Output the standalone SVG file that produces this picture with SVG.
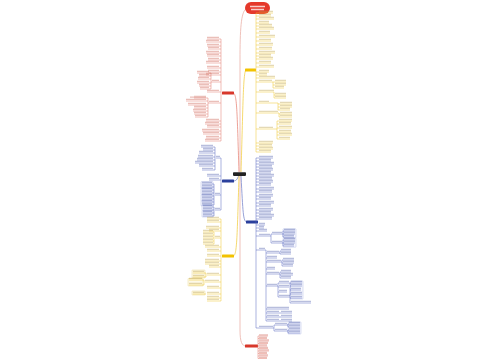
<svg xmlns="http://www.w3.org/2000/svg" width="500" height="360" viewBox="0 0 500 360">
<style>
.c{fill:none;stroke-width:.8}
.ly{fill:none;stroke:#efc52c;stroke-width:.5}
.lr{fill:none;stroke:#e37b6c;stroke-width:.5}
.lb{fill:none;stroke:#5565bd;stroke-width:.5}
.ty{fill:none;stroke:#b99a3c;stroke-width:1.3;opacity:.38}
.tr{fill:none;stroke:#c44736;stroke-width:1.3;opacity:.35}
.tb{fill:none;stroke:#34449e;stroke-width:1.3;opacity:.35}
.bxb{fill:#f6f7fd;stroke:#9ba5dc;stroke-width:.35}
.bxy{fill:#fdf9e8;stroke:#e6cc70;stroke-width:.35}
</style>
<rect width="500" height="360" fill="#fff"/>
<g id="connectors">
<path class="c" stroke="#ebb1a8" d="M246 9C241 12 240 30 240 60L240 172"/>
<path class="c" stroke="#ebb1a8" d="M240 176L240 330C240 342 242 346 246 346"/>
<path class="c" stroke="#f2cf4a" d="M241 172C243 110 243 72 246 70"/>
<path class="c" stroke="#e8897c" d="M239 172C237 110 237 93 233 93"/>
<path class="c" stroke="#7b88cc" d="M239 175C237 180 236 181 233 181"/>
<path class="c" stroke="#7b88cc" d="M241 176C243 212 243 222 247 222"/>
<path class="c" stroke="#f2cf4a" d="M239 176C237 240 237 256 233 256"/>
</g>
<g id="root">
<rect x="245" y="2" width="25" height="12" rx="6" fill="#e5392b"/>
<path d="M250 6.5h15M251 9.5h13" stroke="#fff" stroke-width="1.3" opacity=".75"/>
</g>
<g id="center"><rect x="233" y="172.3" width="13" height="3.6" rx=".8" fill="#222"/></g>
<g id="node-yt"><rect x="245" y="68.6" width="11" height="3" rx=".6" fill="#f2c200"/></g>
<g id="node-rl"><rect x="222" y="91.5" width="12" height="3" rx=".6" fill="#d8372a"/></g>
<g id="node-bl"><rect x="222" y="179.5" width="12" height="3" rx=".6" fill="#2a3f9c"/></g>
<g id="node-br"><rect x="246" y="220.5" width="12" height="3" rx=".6" fill="#2a3f9c"/></g>
<g id="node-yl"><rect x="222" y="254.5" width="12" height="3" rx=".6" fill="#f2c200"/></g>
<g id="node-rb"><rect x="245" y="344.5" width="13" height="3" rx=".6" fill="#d8372a"/></g>

<g id="leaves-yt">
<path class="ly" d="M256 13V152M256 13H273M256 16H271M256 19H274M256 23H269M256 26H272M256 29H274M256 33H270M256 37H275M256 41H271M256 45H273M256 49H272M256 53H275M256 56H271M256 59H273M256 63H271M256 67H274M256 72H269M256 75H267M256 78H275M256 82H273M273 82V88M273 82H286M273 85H286M273 88H284M256 92H274M274 92V98M274 95H286M274 98H286M256 103H278M278 103V110M278 104H292M278 107H292M278 110H290M256 113H279M279 113V117M279 114H292M279 117H292M256 129H277M277 121V139M277 121H292M277 124H291M277 128H292M277 132H291M277 135H292M277 139H290M256 143H273M256 146H272M256 149H273M256 152H271"/>
<path class="ty" d="M259 11.4h14M259 14.4h12M259 17.4h15M259 21.4h10M259 24.4h13M259 27.4h15M259 31.4h11M259 35.4h16M259 39.4h12M259 43.4h14M259 47.4h13M259 51.4h16M259 54.4h12M259 57.4h14M259 61.4h12M259 65.4h15M259 70.4h10M259 73.4h8M259 76.4h16M259 80.4h13M259 90.4h15M259 101.4h10M259 111.4h19M259 127.4h14M259 141.4h14M259 144.4h13M259 147.4h14M259 150.4h12M275 80.4h11M275 83.4h11M275 86.4h9M275 93.4h11M275 96.4h11M280 102.4h12M280 105.4h12M280 108.4h10M280 112.4h12M280 115.4h12M279 119.4h13M279 122.4h12M279 126.4h13M279 130.4h12M279 133.4h13M279 137.4h11"/>
</g>

<g id="leaves-br">
<rect class="bxb" x="283" y="228.8" width="13" height="9" rx=".5"/>
<rect class="bxb" x="283" y="238.2" width="13" height="9" rx=".5"/>
<rect class="bxb" x="290.5" y="281" width="12.5" height="18" rx=".5"/>
<rect class="bxb" x="288" y="322" width="13" height="12" rx=".5"/>
<path class="lb" d="M256 158V328M256 158H273M256 161H271M256 164H274M256 167H272M256 170H273M256 173H271M256 176H274M256 179H272M256 182H273M256 185H271M256 189H274M256 192H272M256 196H273M256 199H271M256 203H274M256 206H271M256 210H273M256 213H271M256 216H274M256 219H272M256 225H265M256 228H264M256 231H267M256 236H271M271 234V243M271 234H283M271 243H283M283 231V237M283 240V246M283 231H295M283 234H295M283 237H294M283 240H295M283 243H295M283 246H294M256 250H266M266 250V321M266 253H280M280 251V254M280 251H291M280 254H291M266 258H277M266 262H282M282 260V266M282 260H294M282 263H294M282 266H293M266 269H275M266 274H280M280 272V278M280 272H291M280 275H293M280 278H291M266 286H278M278 283V297M278 283H290M278 287H289M278 292H287M278 297H290M290 283V303M290 283H302M290 286H302M290 290H301M290 294H302M290 298H302M290 303H311M266 309H289M266 313H292M266 317H292M266 321H292M256 328H274M274 325V331M274 325H288M274 331H288M288 324V327M288 330V333M288 324H300M288 327H300M288 330H300M288 333H300"/>
<path class="tb" d="M259 156.4h14M259 159.4h12M259 162.4h15M259 165.4h13M259 168.4h14M259 171.4h12M259 174.4h15M259 177.4h13M259 180.4h14M259 183.4h12M259 187.4h15M259 190.4h13M259 194.4h14M259 197.4h12M259 201.4h15M259 204.4h12M259 208.4h14M259 211.4h12M259 214.4h15M259 217.4h13M259 223.4h6M259 226.4h5M259 229.4h8M259 234.4h11M259 248.4h6M259 326.4h14M272 232.4h10M272 241.4h10M284 229.4h11M284 232.4h11M284 235.4h10M284 238.4h11M284 241.4h11M284 244.4h10M267 251.4h12M267 256.4h10M267 260.4h14M267 267.4h8M267 272.4h12M267 284.4h10M267 307.4h22M267 311.4h12M267 315.4h12M267 319.4h12M281 249.4h10M281 252.4h10M283 258.4h11M283 261.4h11M283 264.4h10M281 270.4h10M281 273.4h12M281 276.4h10M279 281.4h10M279 285.4h10M279 290.4h8M279 295.4h11M291 281.4h11M291 284.4h11M291 288.4h10M291 292.4h11M291 296.4h11M291 301.4h20M281 311.4h11M281 315.4h11M281 319.4h11M275 323.4h12M275 329.4h12M289 322.4h11M289 325.4h11M289 328.4h11M289 331.4h11"/>
</g>

<g id="leaves-rl">
<path class="lr" d="M221 39V141M207 39H221M206 42H221M207 46H221M208 49H221M206 53H221M207 56H221M208 60H221M206 63H221M207 68H221M208 72H221M206 75H221M211 82H221M211 73V89M197 73H211M199 76H211M198 79H211M197 83H211M199 86H211M200 89H211M207 92H221M208 103H221M208 98V117M194 98H208M186 101H208M188 105H208M194 108H208M193 111H208M194 114H208M195 117H208M206 121H221M205 124H221M207 127H221M202 131H221M203 134H221M206 138H221M205 141H221"/>
<path class="tr" d="M207 37.4h12M206 40.4h13M207 44.4h12M208 47.4h11M206 51.4h13M207 54.4h12M208 58.4h11M206 61.4h13M207 66.4h12M208 70.4h11M206 73.4h13M212 80.4h7M207 90.4h12M209 101.4h10M206 119.4h13M205 122.4h14M207 125.4h12M202 129.4h17M203 132.4h16M206 136.4h13M205 139.4h14M197 71.4h12M199 74.4h10M198 77.4h11M197 81.4h12M199 84.4h10M200 87.4h9M194 96.4h12M190 97.2h16M186 99.4h20M188 103.4h18M194 106.4h12M193 109.4h13M194 112.4h12M195 115.4h11"/>
</g>

<g id="leaves-bl">
<rect class="bxb" x="201" y="181.6" width="12" height="6.4" rx=".5"/>
<rect class="bxb" x="201" y="188.4" width="12" height="6.4" rx=".5"/>
<rect class="bxb" x="201" y="194.8" width="12" height="6.4" rx=".5"/>
<rect class="bxb" x="201" y="201" width="12" height="4.8" rx=".5"/>
<rect class="bxb" x="202" y="204.8" width="11" height="6" rx=".5"/>
<rect class="bxb" x="202" y="211" width="11" height="6" rx=".5"/>
<path class="lb" d="M221 158V210M216 158H221M215 147V170M201 147H215M203 150H215M199 153H215M198 157H215M197 160H215M195 163H215M199 166H215M202 170H215M207 176H221M209 180H221M215 195H221M214 184V205M202 184H214M202 187H214M202 190H214M202 193H214M202 196H214M202 199H214M202 202H214M202 205H214M215 210H221M214 207V216M203 207H214M203 210H214M203 213H214M203 216H214"/>
<path class="tb" d="M201 145.4h12M203 148.4h10M199 151.4h14M198 155.4h15M197 158.4h16M195 161.4h18M199 164.4h14M202 168.4h11M207 174.4h12M209 178.4h10M216 156.4h4M215 193.4h5M215 208.4h5M202 182.4h10M202 185.4h10M202 188.4h10M202 191.4h10M202 194.4h10M202 197.4h10M202 200.4h10M202 203.4h10M203 205.4h9M203 208.4h9M203 211.4h9M203 214.4h9"/>
</g>

<g id="leaves-yl">
<rect class="bxy" x="192" y="270" width="13" height="8" rx=".5"/>
<rect class="bxy" x="188" y="278.5" width="15" height="7.5" rx=".5"/>
<rect class="bxy" x="192" y="291" width="13" height="4" rx=".5"/>
<path class="ly" d="M221 219V301M207 219H221M207 222H221M206 228H221M209 231H221M215 238H221M214 232V244M203 232H214M203 235H214M203 238H214M203 241H214M203 244H214M205 247H221M207 251H221M207 256H221M205 261H221M205 264H221M209 267H221M207 275H221M206 273V277M193 273H206M193 277H206M205 282H221M204 280V285M189 280H204M189 285H204M207 288H221M207 294H221M193 294H206M207 298H221M207 301H221"/>
<path class="ty" d="M207 217.4h12M207 220.4h12M206 226.4h13M209 229.4h10M215 236.4h5M203 230.4h10M203 233.4h10M203 236.4h10M203 239.4h10M203 242.4h10M205 245.4h14M207 249.4h12M207 254.4h12M205 259.4h14M205 262.4h14M209 265.4h10M207 273.4h12M193 271.4h11M193 275.4h11M205 280.4h14M189 278.4h13M189 283.4h13M207 286.4h12M207 292.4h12M193 292.4h11M207 296.4h12M207 299.4h12"/>
</g>

<g id="leaves-rb">
<path class="lr" d="M258 336V358.5M258 336H268M258 338.5H267M258 341H269M258 343.5H268M258 346H267M258 348.5H268M258 351H269M258 353.5H267M258 356H268M258 358.5H267"/>
<path class="tr" stroke-width="1.1" d="M259 334.8h9M259 337.3h8M259 339.8h10M259 342.3h9M259 344.8h8M259 347.3h9M259 349.8h10M259 352.3h8M259 354.8h9M259 357.3h8"/>
</g>
</svg>
